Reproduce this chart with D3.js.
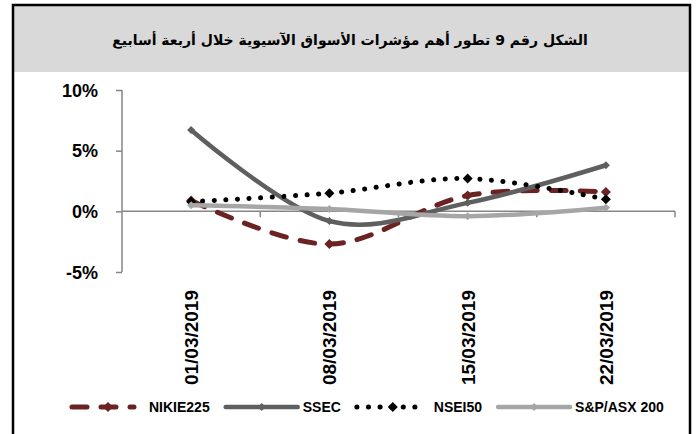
<!DOCTYPE html>
<html>
<head>
<meta charset="utf-8">
<script src="https://cdn.jsdelivr.net/npm/d3@7"></script>
<style>
  html, body { margin: 0; padding: 0; background: #fff; }
  svg { display: block; }
  text { font-family: "Liberation Sans", Arial, sans-serif; font-weight: bold; fill: #000; }
</style>
</head>
<body>
<svg id="chart"></svg>
<script>
// Data
const dates = ["01/03/2019", "08/03/2019", "15/03/2019", "22/03/2019"];
const yTicks = [-5, 0, 5, 10];
const nikkei = [0.9, -2.7, 1.3, 1.6];
const ssec = [6.7, -0.8, 0.7, 3.8];
const nsei = [0.8, 1.5, 2.7, 1.0];
const asx = [0.5, 0.2, -0.4, 0.3];
const seriesNames = ["NIKIE225", "SSEC", "NSEI50", "S&P/ASX 200"];

const title = "الشكل رقم 9 تطور أهم مؤشرات الأسواق الآسيوية خلال أربعة أسابيع";

// Styles per series
const styles = [
  { color: "#6b2222", width: 5, dash: "15,14", cap: "round", marker: 5 },
  { color: "#5f5f5f", width: 4.5, dash: null, cap: "round", marker: 4 },
  { color: "#000000", width: 5, dash: "0.1,11.5", cap: "round", marker: 5 },
  { color: "#a6a6a6", width: 4.5, dash: null, cap: "round", marker: 4 }
];
const series = [nikkei, ssec, nsei, asx].map((values, i) => ({
  name: seriesNames[i], values, style: styles[i]
}));

const width = 699, height = 434;
const svg = d3.select("#chart").attr("width", width).attr("height", height);

// Header and frame
svg.append("rect").attr("x", 14).attr("y", 6).attr("width", 676).attr("height", 66)
  .attr("fill", "#d9d9d9");
svg.append("rect").attr("x", 13).attr("y", 5).attr("width", 677).attr("height", 450)
  .attr("fill", "none").attr("stroke", "#000").attr("stroke-width", 2.5);
svg.append("text")
  .attr("x", 350).attr("y", 45)
  .attr("text-anchor", "middle")
  .attr("direction", "rtl")
  .style("font-family", "'DejaVu Sans', 'Noto Sans', sans-serif")
  .style("font-size", "14px")
  .text(title);

// Scales
const x = d3.scaleBand().domain(dates).range([122, 675]);
const y = d3.scaleLinear().domain([-5, 10]).range([272, 90]);
const axisColor = "#868686";

// Y axis
const yAxis = svg.append("g").attr("transform", "translate(122,0)")
  .call(d3.axisLeft(y).tickValues(yTicks).tickSize(6).tickFormat(d => d + "%"));
yAxis.select(".domain").attr("stroke", axisColor).attr("stroke-width", 1.5)
  .attr("d", `M0,${y(10)}V${y(-5)}`);
yAxis.selectAll(".tick line").attr("stroke", axisColor).attr("stroke-width", 1.5);
yAxis.selectAll(".tick text")
  .attr("x", -24).attr("dy", "0.35em")
  .style("font-size", "18px").style("font-family", "'Liberation Sans', Arial, sans-serif")
  .style("font-weight", "bold").attr("fill", "#000");

// X axis line at zero with ticks at band boundaries
const xg = svg.append("g");
xg.append("line")
  .attr("x1", x.range()[0]).attr("x2", x.range()[1])
  .attr("y1", y(0)).attr("y2", y(0))
  .attr("stroke", axisColor).attr("stroke-width", 1.5);
xg.selectAll("line.tick").data(dates)
  .enter().append("line").attr("class", "tick")
  .attr("x1", d => x(d) + x.bandwidth()).attr("x2", d => x(d) + x.bandwidth())
  .attr("y1", y(0)).attr("y2", y(0) + 6)
  .attr("stroke", axisColor).attr("stroke-width", 1.5);

// Rotated date labels
svg.selectAll("text.xlab").data(dates)
  .enter().append("text").attr("class", "xlab")
  .attr("transform", d => `translate(${x(d) + x.bandwidth() / 2 + 7},290) rotate(-90)`)
  .attr("text-anchor", "end")
  .style("font-size", "19px")
  .text(d => d);

// Diamond path helper
function diamond(r) {
  return `M0,${-r}L${r},0L0,${r}L${-r},0Z`;
}

// Lines
const line = d3.line()
  .x((d, i) => x(dates[i]) + x.bandwidth() / 2)
  .y(d => y(d))
  .curve(d3.curveCardinal.tension(0));

series.forEach(s => {
  svg.append("path")
    .datum(s.values)
    .attr("d", line)
    .attr("fill", "none")
    .attr("stroke", s.style.color)
    .attr("stroke-width", s.style.width)
    .attr("stroke-linecap", s.style.cap)
    .attr("stroke-dasharray", s.style.dash);
  svg.selectAll(null).data(s.values)
    .enter().append("path")
    .attr("d", diamond(s.style.marker))
    .attr("transform", (d, i) => `translate(${x(dates[i]) + x.bandwidth() / 2},${y(d)})`)
    .attr("fill", s.style.color);
});

// Legend
const legendY = 407;
let lx = 72;
series.forEach((s, i) => {
  const symW = i % 2 === 0 ? 62 : 72;
  const g = svg.append("g");
  g.append("line")
    .attr("x1", lx).attr("x2", lx + symW)
    .attr("y1", legendY).attr("y2", legendY)
    .attr("stroke", s.style.color)
    .attr("stroke-width", s.style.width)
    .attr("stroke-linecap", s.style.cap)
    .attr("stroke-dasharray", s.style.dash);
  const markX = i % 2 === 0 ? lx + 36 : lx + symW / 2;
  g.append("path")
    .attr("d", diamond(s.style.marker))
    .attr("transform", `translate(${markX},${legendY})`)
    .attr("fill", s.style.color);
  const t = g.append("text")
    .attr("x", lx + 77).attr("y", legendY + 5)
    .style("font-size", "14px")
    .text(s.name);
  lx = lx + 77 + t.node().getComputedTextLength() + 16;
});
</script>
</body>
</html>
